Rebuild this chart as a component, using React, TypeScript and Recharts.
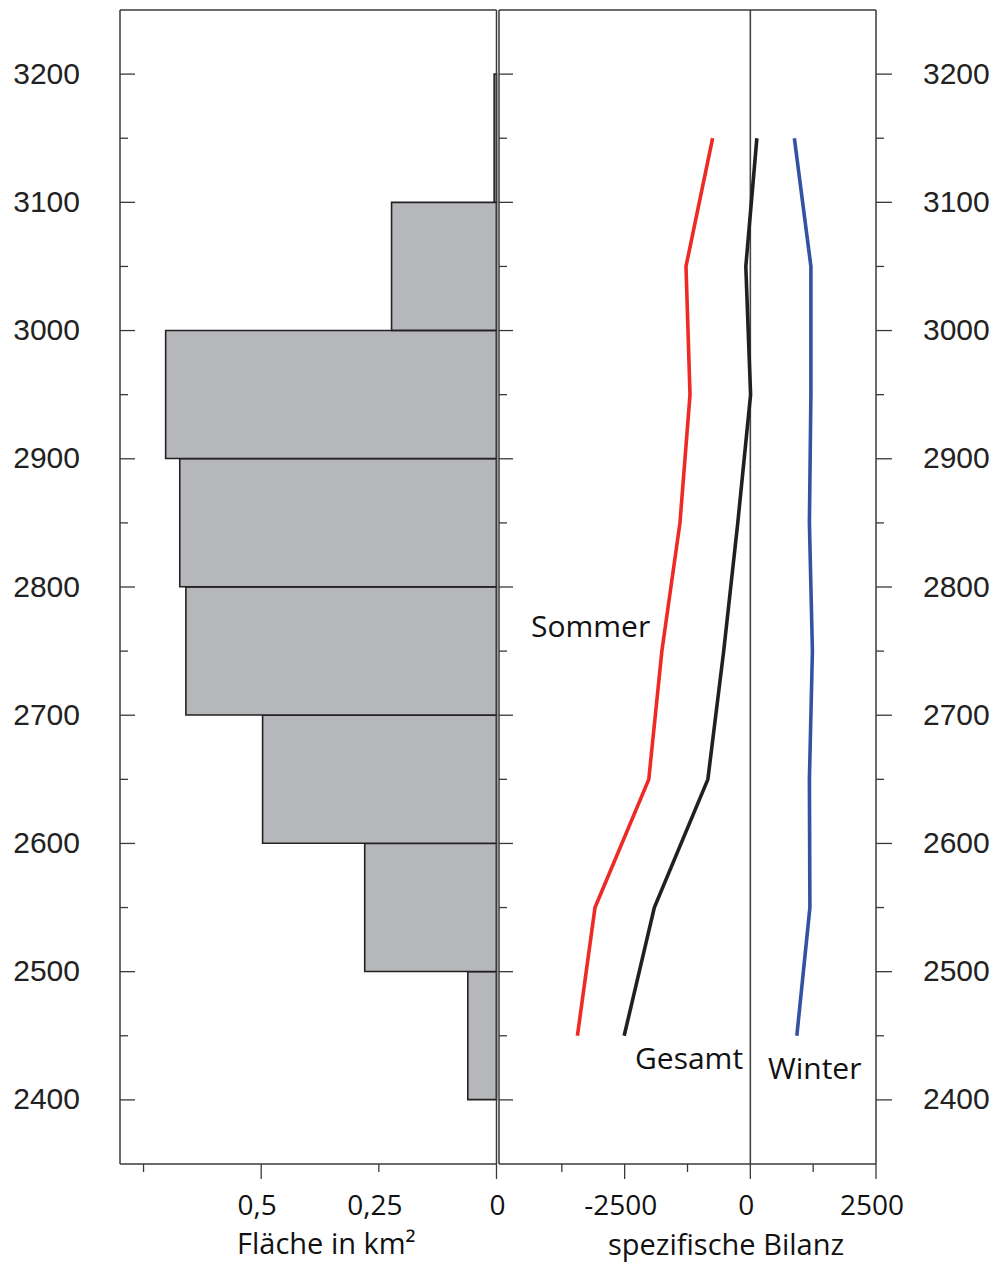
import { BarChart, Bar, LineChart, Line, XAxis, YAxis, ReferenceLine } from 'recharts';

// Höhenstufen (Mitte der 100-m-Bänder, m ü. M.)
const elevation = [2450, 2550, 2650, 2750, 2850, 2950, 3050, 3150];
// Fläche pro Höhenstufe in km²
const areaKm2 = [0.061, 0.28, 0.497, 0.66, 0.673, 0.703, 0.223, 0.005];
// spezifische Bilanz (mm w.e.)
const sommer = [-3440, -3090, -2020, -1760, -1400, -1200, -1280, -750];
const gesamt = [-2510, -1910, -845, -530, -250, 5, -90, 130];
const winter = [925, 1185, 1175, 1235, 1175, 1205, 1205, 876];

const elevTicks = [2400, 2450, 2500, 2550, 2600, 2650, 2700, 2750, 2800, 2850, 2900, 2950, 3000, 3050, 3100, 3150, 3200];
const areaTicks = [0.75, 0.5, 0.25, 0];
const areaTickLabels = ['', '0,5', '0,25', '0'];
const areaMajor = [0.5, 0];
const bilanzTicks = [-3750, -2500, -1250, 0, 1250, 2500];
const bilanzTickLabels = ['', '-2500', '', '0', '', '2500'];
const bilanzMajor = [-2500, 0, 2500];

const areaData = elevation.map((e, i) => ({ elev: e, area: areaKm2[i] }));
const bilanzData = elevation.map((e, i) => ({
  elev: e,
  sommer: sommer[i],
  gesamt: gesamt[i],
  winter: winter[i],
}));

const W = 997;
const H = 1269;
const AXIS = '#3a3a3a';
const NUM_FONT = '"Liberation Sans", Arial, sans-serif';
const TEXT_FONT = '"Open Sans", "Noto Sans", sans-serif';

// tick on a vertical axis: line goes to the right, optional label
function elevTick(majorLen: number, minorLen: number, labelDx: number | null, anchor: 'start' | 'end') {
  return (p: any) => {
    const major = p.payload.value % 100 === 0;
    return (
      <g>
        <line x1={p.x} y1={p.y} x2={p.x + (major ? majorLen : minorLen)} y2={p.y} stroke={AXIS} strokeWidth={1.3} />
        {major && labelDx !== null && (
          <text x={p.x + labelDx} y={p.y + 9.5} textAnchor={anchor} fontFamily={NUM_FONT} fontSize={30} fill="#222">
            {p.payload.value}
          </text>
        )}
      </g>
    );
  };
}

// tick on a horizontal axis: line goes down, optional label below
function valueTick(ticks: number[], labels: string[] | null, major: number[], majorLen: number, minorLen: number) {
  return (p: any) => {
    const v = p.payload.value;
    const i = ticks.indexOf(v);
    const label = labels ? labels[i] : '';
    const dx = v === 0 && ticks === areaTicks ? 1 : -4;
    return (
      <g>
        <line x1={p.x} y1={p.y} x2={p.x} y2={p.y + (major.includes(v) ? majorLen : minorLen)} stroke={AXIS} strokeWidth={1.3} />
        {label && (
          <text x={p.x + dx} y={p.y + 51} textAnchor="middle" fontFamily={TEXT_FONT} fontSize={28} fill="#111">
            {label}
          </text>
        )}
      </g>
    );
  };
}

function App() {
  return (
    <div style={{ position: 'absolute', left: 0, top: 0, width: W, height: H, background: '#fff' }}>
      <div style={{ position: 'absolute', left: 0, top: 0 }}>
        <BarChart
          width={W}
          height={H}
          data={areaData}
          layout="vertical"
          barCategoryGap={0}
          margin={{ top: 0, right: W - 496.5, bottom: 0, left: 0 }}
        >
          <XAxis
            xAxisId="b"
            type="number"
            domain={[0, 0.8]}
            reversed
            ticks={areaTicks}
            interval={0}
            height={105}
            tickSize={0}
            tickMargin={0}
            tickLine={false}
            axisLine={{ stroke: AXIS, strokeWidth: 1.5 }}
            tick={valueTick(areaTicks, areaTickLabels, areaMajor, 15, 8)}
          />
          <XAxis
            xAxisId="t"
            orientation="top"
            type="number"
            domain={[0, 0.8]}
            reversed
            ticks={[0.75, 0.5, 0.25]}
            interval={0}
            height={10}
            tickSize={0}
            tickMargin={0}
            tickLine={false}
            axisLine={{ stroke: AXIS, strokeWidth: 1.5 }}
            tick={valueTick(areaTicks, null, areaMajor, 16, 8)}
          />
          <YAxis
            yAxisId="e"
            type="number"
            dataKey="elev"
            domain={[2350, 3250]}
            reversed
            ticks={elevTicks}
            interval={0}
            width={120}
            tickSize={0}
            tickMargin={0}
            tickLine={false}
            axisLine={{ stroke: AXIS, strokeWidth: 1.5 }}
            tick={elevTick(15, 8, -40, 'end')}
          />
          <Bar
            xAxisId="b"
            yAxisId="e"
            dataKey="area"
            fill="#b6b7bb"
            stroke="#222"
            strokeWidth={1.6}
            isAnimationActive={false}
          />
          <ReferenceLine xAxisId="b" yAxisId="e" x={0} stroke={AXIS} strokeWidth={1.5} />
        </BarChart>
      </div>

      <div style={{ position: 'absolute', left: 0, top: 0 }}>
        <LineChart
          width={W}
          height={H}
          data={bilanzData}
          layout="vertical"
          margin={{ top: 0, right: 0, bottom: 0, left: 489 }}
        >
          <XAxis
            xAxisId="b"
            type="number"
            domain={[-5000, 2500]}
            ticks={bilanzTicks}
            interval={0}
            height={105}
            tickSize={0}
            tickMargin={0}
            tickLine={false}
            axisLine={{ stroke: AXIS, strokeWidth: 1.5 }}
            tick={valueTick(bilanzTicks, bilanzTickLabels, bilanzMajor, 15, 8)}
          />
          <XAxis
            xAxisId="t"
            orientation="top"
            type="number"
            domain={[-5000, 2500]}
            ticks={bilanzTicks}
            interval={0}
            height={10}
            tickSize={0}
            tickMargin={0}
            tickLine={false}
            axisLine={{ stroke: AXIS, strokeWidth: 1.5 }}
            tick={valueTick(bilanzTicks, null, bilanzMajor, 16, 8)}
          />
          <YAxis
            yAxisId="l"
            type="number"
            dataKey="elev"
            domain={[2350, 3250]}
            reversed
            ticks={elevTicks}
            interval={0}
            width={10}
            tickSize={0}
            tickMargin={0}
            tickLine={false}
            axisLine={{ stroke: AXIS, strokeWidth: 1.5 }}
            tick={elevTick(14, 8, null, 'start')}
          />
          <YAxis
            yAxisId="r"
            orientation="right"
            type="number"
            dataKey="elev"
            domain={[2350, 3250]}
            reversed
            ticks={elevTicks}
            interval={0}
            width={121}
            tickSize={0}
            tickMargin={0}
            tickLine={false}
            axisLine={{ stroke: AXIS, strokeWidth: 1.5 }}
            tick={elevTick(16, 8, 47, 'start')}
          />
          <ReferenceLine xAxisId="b" yAxisId="l" x={0} stroke="#444" strokeWidth={1.6} />
          <Line xAxisId="b" yAxisId="l" dataKey="sommer" stroke="#ee2a24" strokeWidth={3.6} dot={false} isAnimationActive={false} />
          <Line xAxisId="b" yAxisId="l" dataKey="gesamt" stroke="#231f20" strokeWidth={3.6} dot={false} isAnimationActive={false} />
          <Line xAxisId="b" yAxisId="l" dataKey="winter" stroke="#3452a4" strokeWidth={3.6} dot={false} isAnimationActive={false} />
        </LineChart>
      </div>

      <svg width={W} height={H} style={{ position: 'absolute', left: 0, top: 0, pointerEvents: 'none' }}>
        <g fontFamily={TEXT_FONT} fontSize={29} fill="#111">
          <text x={237} y={1254}>Fläche in km²</text>
          <text x={608} y={1255}>spezifische Bilanz</text>
        </g>
        <g fontFamily={TEXT_FONT} fontSize={30} fill="#111">
          <text x={531} y={637}>Sommer</text>
          <text x={635} y={1069}>Gesamt</text>
          <text x={768} y={1079}>Winter</text>
        </g>
      </svg>
    </div>
  );
}

export default App;
